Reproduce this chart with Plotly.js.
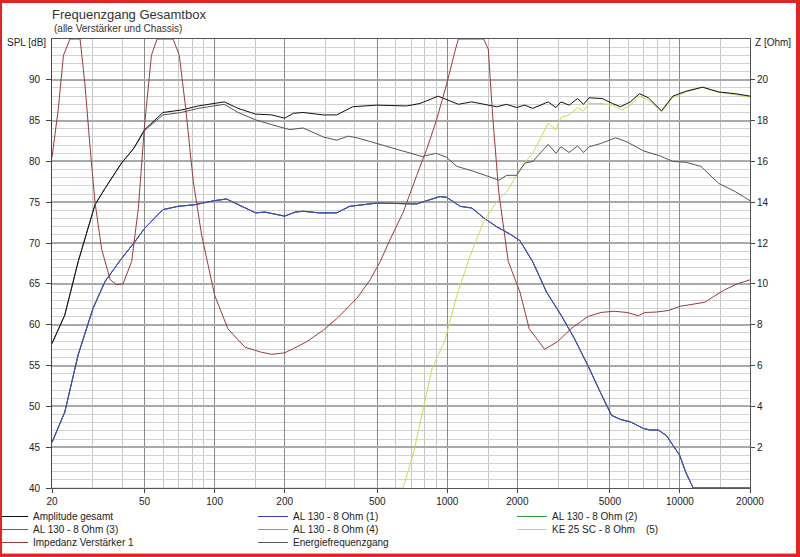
<!DOCTYPE html>
<html><head><meta charset="utf-8">
<script src="https://cdn.plot.ly/plotly-3.0.1.min.js"></script>
<style>
html,body{margin:0;padding:0;background:#fff;}
#wrap{position:relative;width:800px;height:557px;overflow:hidden;}
#chart{position:absolute;left:0;top:0;width:800px;height:557px;}
#frame{position:absolute;left:0;top:0;width:800px;height:557px;box-sizing:border-box;border-style:solid;border-color:#e42424;border-width:3px 4px 3px 2px;pointer-events:none;}
#inner{position:absolute;left:2px;right:4px;bottom:3px;height:1px;background:#b8b8b8;pointer-events:none;}
</style></head>
<body><div id="wrap"><div id="chart"></div><div id="frame"></div><div id="inner"></div></div>
<script>
// ---- data ----
const xTickVals = [20, 50, 100, 200, 500, 1000, 2000, 5000, 10000, 20000];
const xTickText = ["20", "50", "100", "200", "500", "1000", "2000", "5000", "10000", "20000"];
const xMinorVals = [30, 40, 60, 70, 80, 90, 150, 300, 400, 600, 700, 800, 900, 1500, 3000, 4000, 6000, 7000, 8000, 9000, 15000];
const splTickVals = [40, 45, 50, 55, 60, 65, 70, 75, 80, 85, 90];
const zTickVals = [2, 4, 6, 8, 10, 12, 14, 16, 18, 20];

const ampFreq = [20, 22.7, 25.9, 28.2, 30.6, 33.8, 39.8, 44.9, 50, 60, 72, 85, 100, 110, 126, 150, 176, 200, 218, 240, 293, 335, 392, 497, 668, 763, 913, 994, 1116, 1274, 1476, 1630, 1800, 1985, 2150, 2330, 2715, 2930, 3080, 3340, 3630, 3850, 4070, 4640, 5120, 5550, 6120, 6700, 7310, 8330, 9320, 10600, 12500, 14700, 17300, 20000];
const ampLevel = [57.7, 61.2, 67.7, 71.4, 74.7, 76.7, 79.8, 81.6, 83.9, 86.0, 86.3, 86.8, 87.1, 87.3, 86.5, 85.8, 85.7, 85.3, 85.9, 86.0, 85.7, 85.7, 86.7, 86.9, 86.8, 87.1, 88.0, 87.6, 87.0, 87.3, 86.9, 86.7, 87.0, 86.6, 86.9, 86.5, 87.3, 86.6, 87.3, 86.9, 87.7, 87.0, 87.8, 87.7, 87.1, 86.7, 87.3, 88.3, 87.8, 86.2, 88.0, 88.6, 89.1, 88.5, 88.3, 88.0];

const energyFreq = [20, 22.7, 25.9, 28.2, 30.6, 33.8, 39.8, 44.9, 50, 60, 72, 85, 100, 110, 126, 150, 176, 210, 240, 293, 335, 375, 409, 497, 609, 780, 897, 994, 1099, 1294, 1525, 1664, 1800, 1985, 2155, 2330, 2715, 2930, 3080, 3340, 3630, 3850, 4070, 4570, 5290, 5920, 6960, 8170, 9320, 10600, 12300, 14700, 17300, 20000];
const energyLevel = [57.7, 61.2, 67.7, 71.4, 74.7, 76.7, 79.8, 81.6, 83.8, 85.7, 86.0, 86.5, 86.8, 87.0, 86.0, 85.1, 84.5, 83.9, 84.1, 83.0, 82.6, 83.1, 82.9, 82.2, 81.4, 80.6, 81.0, 80.5, 79.4, 78.8, 78.1, 77.7, 78.3, 78.3, 79.8, 80.0, 82.1, 81.0, 81.8, 81.1, 81.9, 81.1, 81.8, 82.2, 82.9, 82.4, 81.3, 80.7, 80.0, 79.9, 79.4, 77.3, 76.3, 75.2];

// the four AL 130 chassis lie on top of each other in the picture
const al130Freq = [20, 22.7, 25.9, 30, 33.8, 39.8, 45.5, 50, 60, 69.5, 82, 100, 112.5, 131.7, 150, 164.6, 200, 222, 240, 282, 335, 380, 497, 738, 930, 994, 1137, 1274, 1432, 1630, 1860, 2052, 2330, 2670, 3080, 3520, 4020, 4570, 5080, 5550, 6120, 6960, 7440, 8070, 8760, 9970, 10600, 11400, 20000];
const al130Level = [45.6, 49.3, 56.3, 62.0, 65.3, 68.1, 70.2, 71.8, 74.1, 74.5, 74.7, 75.2, 75.4, 74.5, 73.7, 73.8, 73.3, 73.8, 73.9, 73.7, 73.7, 74.5, 74.9, 74.8, 75.7, 75.6, 74.5, 74.3, 73.1, 72.0, 71.1, 70.3, 67.7, 64.0, 61.2, 58.3, 55.0, 51.6, 48.9, 48.4, 48.1, 47.3, 47.1, 47.1, 46.4, 44.0, 41.9, 40.0, 40.0];

const ke25Freq = [20, 646, 717, 784, 860, 977, 1099, 1255, 1432, 1630, 1800, 1985, 2155, 2330, 2530, 2715, 2930, 3080, 3340, 3630, 3850, 4070, 4640, 5120, 5640, 6120, 6700, 7310, 8330, 9320, 10600, 12500, 14700, 17300, 20000];
const ke25Level = [40, 40, 44.4, 49.3, 54.6, 58.1, 63.6, 68.5, 72.6, 75.1, 76.3, 78.3, 79.9, 81.0, 83.0, 84.7, 83.9, 85.4, 85.7, 86.6, 86.2, 87.1, 87.1, 86.9, 86.3, 86.9, 88.0, 87.5, 86.1, 87.8, 88.5, 89.1, 88.5, 88.2, 87.9];

const impFreq = [20, 21.3, 22.4, 23.9, 26.4, 27.7, 29.1, 30.6, 32.7, 35.6, 37.9, 40.4, 44, 47, 50, 53.5, 56.6, 66.3, 70.5, 75.1, 81, 87.9, 100, 114, 135, 158, 176, 200, 218, 248, 293, 335, 363, 409, 466, 515, 569, 646, 738, 816, 897, 994, 1079, 1116, 1432, 1500, 1570, 1664, 1828, 2052, 2250, 2620, 2970, 3400, 4020, 4570, 5200, 5920, 6630, 7060, 7900, 8960, 9970, 11300, 12800, 13900, 15500, 17600, 20000];
const impOhm = [16.2, 18.6, 21.2, 22, 22, 19.8, 16.8, 14.0, 11.7, 10.2, 9.96, 10.0, 11.1, 13.7, 17.8, 21.2, 22, 22, 21.2, 18.6, 15.0, 12.4, 9.45, 7.8, 6.9, 6.66, 6.55, 6.62, 6.83, 7.16, 7.73, 8.3, 8.7, 9.3, 10.2, 11.1, 12.2, 13.5, 15.3, 16.6, 18.0, 19.8, 21.4, 22, 22, 21.5, 18.1, 14.5, 11.1, 9.6, 7.8, 6.8, 7.16, 7.8, 8.4, 8.6, 8.66, 8.6, 8.44, 8.6, 8.62, 8.7, 8.9, 9.0, 9.1, 9.37, 9.7, 10.0, 10.2];

const seriesNames = ["Amplitude gesamt", "AL 130 - 8 Ohm (1)", "AL 130 - 8 Ohm (2)", "AL 130 - 8 Ohm (3)", "AL 130 - 8 Ohm (4)", "KE 25 SC - 8 Ohm    (5)", "Impedanz Verstärker 1", "Energiefrequenzgang"];

// ---- styling ----
const seriesColors = ["#111111", "#3c3cc4", "#2e9a3a", "#cc3838", "#38b4c8", "#d6d650", "#9a3a3a", "#555555"];
const legColLeft = [-7, 253, 512];   // px, three legend columns
const legRowTop = [502, 515, 528];   // px, three legend rows
const legCol = [0, 1, 2, 0, 1, 2, 0, 1];
const legRow = [0, 0, 0, 1, 1, 1, 2, 2];
const legId = i => (i === 0 ? "legend" : "legend" + (i + 1));

function tr(i, x, y, axis) {
  return {type: "scatter", mode: "lines", name: seriesNames[i], x: x, y: y,
    yaxis: axis || "y", legend: legId(i), cliponaxis: false,
    line: {color: seriesColors[i], width: 1}, hoverinfo: "skip"};
}
// drawing order: hidden duplicates first
const data = [
  tr(2, al130Freq, al130Level),
  tr(3, al130Freq, al130Level),
  tr(4, al130Freq, al130Level),
  tr(1, al130Freq, al130Level),
  tr(5, ke25Freq, ke25Level),
  tr(6, impFreq, impOhm, "y2"),
  tr(7, energyFreq, energyLevel),
  tr(0, ampFreq, ampLevel)
];

const F = "Liberation Sans, Arial, sans-serif";
const plotL = 52, plotR = 750, plotT = 39, plotB = 488;
const pw = plotR - plotL, ph = plotB - plotT;
const px = v => (v - plotL) / pw;
const py = v => (plotB - v) / ph;

const layout = {
  width: 800, height: 557,
  margin: {l: plotL, r: 800 - plotR, t: plotT, b: 557 - plotB, pad: 0, autoexpand: false},
  paper_bgcolor: "#ffffff", plot_bgcolor: "#ffffff",
  font: {family: F, size: 10, color: "#222"},
  showlegend: true,
  title: {text: "Frequenzgang Gesamtbox", font: {family: F, size: 13, color: "#333"},
          xref: "container", x: 52 / 800, xanchor: "left", yref: "container", y: 1 - 14 / 557, yanchor: "middle"},
  xaxis: {type: "log", range: [Math.log10(20), Math.log10(20000)],
    tickmode: "array", tickvals: xTickVals, ticktext: xTickText,
    ticks: "outside", ticklen: 4, tickcolor: "#444",
    showgrid: true, gridcolor: "#8a8a8a", gridwidth: 1,
    minor: {tickmode: "array", tickvals: xMinorVals, showgrid: true, gridcolor: "#c6c6c6", gridwidth: 1, ticks: ""},
    showline: true, linecolor: "#555", linewidth: 1, mirror: true,
    zeroline: false, layer: "below traces", fixedrange: true,
    tickfont: {family: F, size: 10, color: "#222"}},
  yaxis: {range: [40, 95], tickmode: "array", tickvals: splTickVals,
    ticks: "outside", ticklen: 5, tickcolor: "#444", ticklabelstandoff: 4,
    showgrid: true, gridcolor: "#a9a9a9", gridwidth: 2,
    minor: {dtick: 1, showgrid: true, gridcolor: "#d2d2d2", gridwidth: 1, ticks: ""},
    showline: true, linecolor: "#444", linewidth: 1,
    zeroline: false, layer: "below traces", fixedrange: true,
    tickfont: {family: F, size: 10, color: "#222"}},
  yaxis2: {overlaying: "y", side: "right", range: [0, 22], tickmode: "array", tickvals: zTickVals,
    ticks: "outside", ticklen: 4, tickcolor: "#444",
    showgrid: false, zeroline: false, showline: true, linecolor: "#555", linewidth: 1,
    layer: "below traces", fixedrange: true,
    tickfont: {family: F, size: 10, color: "#222"}},
  annotations: [
    {text: "(alle Verstärker und Chassis)", xref: "paper", yref: "paper", x: 0, y: py(29),
     xanchor: "left", yanchor: "middle", showarrow: false, font: {family: F, size: 10, color: "#333"}},
    {text: "SPL [dB]", xref: "paper", yref: "paper", x: px(5), y: py(43),
     xanchor: "left", yanchor: "middle", showarrow: false, font: {family: F, size: 10, color: "#222"}},
    {text: "Z [Ohm]", xref: "paper", yref: "paper", x: px(753), y: py(43),
     xanchor: "left", yanchor: "middle", showarrow: false, font: {family: F, size: 10, color: "#222"}}
  ]
};
// one small legend per entry so the rows sit as tightly as in the picture
seriesNames.forEach((n, i) => {
  layout[legId(i)] = {orientation: "v", x: px(legColLeft[legCol[i]]), xanchor: "left",
    y: py(legRowTop[legRow[i]]), yanchor: "top", traceorder: "normal",
    font: {family: F, size: 10, color: "#222"}, bgcolor: "rgba(0,0,0,0)", borderwidth: 0};
});

Plotly.newPlot("chart", data, layout, {displayModeBar: false, staticPlot: true});
</script></body></html>
